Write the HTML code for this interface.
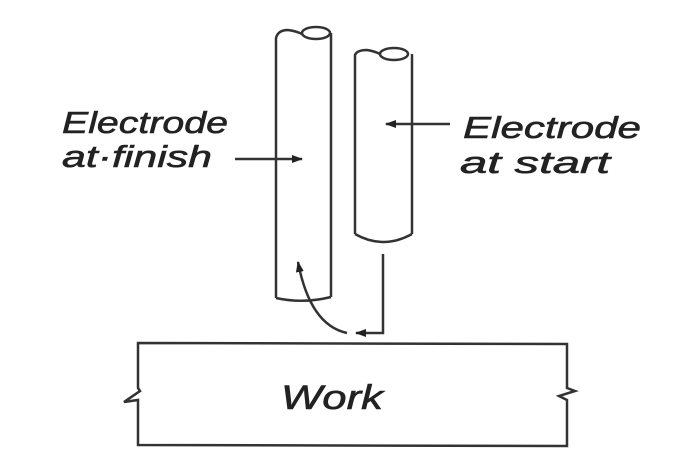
<!DOCTYPE html>
<html><head><meta charset="utf-8"><style>
html,body{margin:0;padding:0;background:#fff;}
svg{display:block;}
text{font-family:"Liberation Sans",sans-serif;font-style:italic;fill:#222;stroke:#222;stroke-width:0.6;}
</style></head><body>
<svg width="695" height="469" viewBox="0 0 695 469" xmlns="http://www.w3.org/2000/svg">
<defs>
<marker id="ah" markerWidth="11" markerHeight="8" refX="10" refY="4" orient="auto" markerUnits="userSpaceOnUse">
<path d="M0,0 L11,4 L0,8 Z" fill="#222"/></marker>
</defs>
<g fill="none" stroke="#333" stroke-width="2.5">
<path d="M276,298 L276,38 Q278,30 288,30 Q296,31 302,34"/>
<ellipse cx="316" cy="33" rx="14" ry="6"/>
<path d="M331,33 L331,297"/>
<path d="M276,298 Q303,304 331,297"/>
<path d="M355,234 L355,55 Q357,50 367,50 Q374,51 380,54"/>
<ellipse cx="394" cy="54" rx="14" ry="6"/>
<path d="M412,54 L412,234"/>
<path d="M355,234 Q383,250 412,234"/>
<line x1="235" y1="159" x2="302" y2="159" marker-end="url(#ah)"/>
<line x1="450" y1="124" x2="386" y2="124" marker-end="url(#ah)"/>
<path d="M383,254 L383,333 L356,333" marker-end="url(#ah)"/>
<path d="M347,333 Q310,325 298,262" marker-end="url(#ah)"/>
<path d="M138,343 L567,344 L567,388 L575,391 L559,396 L567,400 L567,446 L138,445 L138,400 L124,402 L140,391 L138,388 Z"/>
</g>
<text x="62" y="133" font-size="31" textLength="166" lengthAdjust="spacingAndGlyphs">Electrode</text>
<text x="62" y="167" font-size="31" textLength="150" lengthAdjust="spacingAndGlyphs">at·finish</text>
<text x="463" y="138" font-size="31" textLength="178" lengthAdjust="spacingAndGlyphs">Electrode</text>
<text x="460" y="173" font-size="31" textLength="150" lengthAdjust="spacingAndGlyphs">at start</text>
<text x="281" y="409" font-size="34" textLength="102" lengthAdjust="spacingAndGlyphs">Work</text>
</svg>
</body></html>
